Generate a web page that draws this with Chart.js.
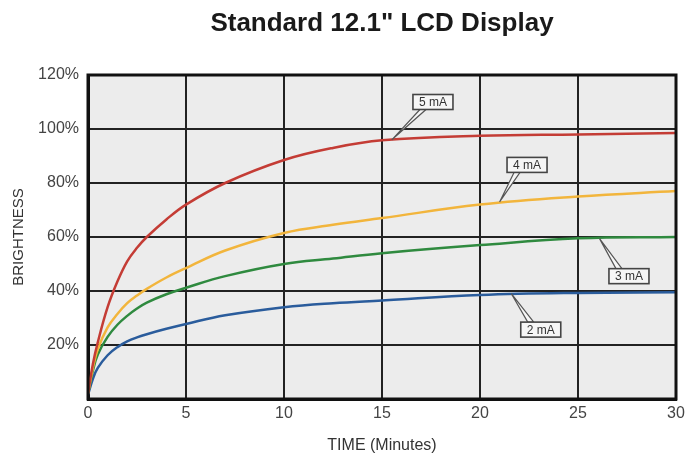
<!DOCTYPE html>
<html>
<head>
<meta charset="utf-8">
<script src="https://cdn.jsdelivr.net/npm/chart.js@4/dist/chart.umd.min.js"></script>
<style>
    html, body { margin: 0; padding: 0; background: #fff; }
    #wrap { width: 699px; height: 455px; }
</style>
</head>
<body>
<div id="wrap"><canvas id="lcdChart"></canvas></div>
<script>
/* ── Data ─────────────────────────────────────────── */
var titleText = 'Standard 12.1" LCD Display';
var timeMinutes = [0, 0.25, 0.5, 1, 1.5, 2, 2.5, 3, 4, 5, 7, 10, 12.5, 15, 20, 25, 30];

var ma5 = [2, 13, 21, 34, 43.5, 51, 56, 60, 66.5, 72, 80, 88.5, 93, 95.8, 97.5, 98, 98.5];
var ma4 = [2, 11.5, 18.5, 26.5, 31.5, 35.5, 38.3, 40.8, 45, 48.5, 55, 61.5, 64.5, 67, 72, 75, 77];
var ma3 = [2, 10.5, 16.5, 23, 27.5, 30.8, 33.5, 35.7, 38.8, 41.2, 45.5, 50, 52, 54, 57, 59.5, 60];
var ma2 = [1.5, 7.5, 11.5, 16.2, 19.2, 21.3, 22.8, 24, 26, 27.8, 31, 34, 35.5, 36.5, 38.5, 39.3, 39.5];

var xTicks = [0, 5, 10, 15, 20, 25, 30];
var yTicks = [0, 20, 40, 60, 80, 100, 120];

// callout labels: box centre and pointer tip, in data units
var calloutLabels = ['5 mA', '4 mA', '3 mA', '2 mA'];
var calloutBoxX = [17.6, 22.4, 27.6, 23.1];
var calloutBoxY = [110, 86.7, 45.5, 25.7];
var calloutTipX = [15.5, 21, 26.1, 21.6];
var calloutTipY = [96, 73, 59.4, 39];

function pts(ys) {
    return timeMinutes.map(function (t, i) { return { x: t, y: ys[i] }; });
}

/* ── Plugins ──────────────────────────────────────── */
var plotFrame = {
    id: 'plotFrame',
    beforeDraw: function (chart) {
        var a = chart.chartArea, c = chart.ctx;
        c.save();
        c.fillStyle = '#ececec';
        c.fillRect(a.left, a.top, a.right - a.left, a.bottom - a.top);
        c.restore();
    },
    afterDatasetsDraw: function (chart) {
        var a = chart.chartArea, c = chart.ctx;
        c.save();
        c.strokeStyle = '#111';
        c.lineWidth = 3;
        c.strokeRect(a.left, a.top, a.right - a.left, a.bottom - a.top);
        c.restore();
    },
    afterDraw: function (chart) {
        var a = chart.chartArea, c = chart.ctx;
        c.save();
        c.fillStyle = '#1a1a1a';
        c.font = 'bold 26px "Liberation Sans", Arial, sans-serif';
        c.textAlign = 'center';
        c.textBaseline = 'alphabetic';
        c.fillText(titleText, (a.left + a.right) / 2, 31);
        c.restore();
    }
};

var callouts = {
    id: 'callouts',
    afterDatasetsDraw: function (chart) {
        var xs = chart.scales.x, ys = chart.scales.y, c = chart.ctx;
        c.save();
        c.font = '12px "Liberation Sans", Arial, sans-serif';
        calloutLabels.forEach(function (lbl, i) {
            var cx = xs.getPixelForValue(calloutBoxX[i]);
            var cy = ys.getPixelForValue(calloutBoxY[i]);
            var tx = xs.getPixelForValue(calloutTipX[i]);
            var ty = ys.getPixelForValue(calloutTipY[i]);
            var w = c.measureText(lbl).width + 12, h = 15;
            var left = cx - w / 2, top = cy - h / 2;
            var ax = left + 10;
            var ay = ty > cy ? top + h : top;

            // pointer wedge
            c.beginPath();
            c.moveTo(ax - 3, ay);
            c.lineTo(tx, ty);
            c.lineTo(ax + 3, ay);
            c.closePath();
            c.fillStyle = '#f6f6f6';
            c.fill();
            c.strokeStyle = '#555';
            c.lineWidth = 1.2;
            c.stroke();

            // box
            c.fillStyle = '#f6f6f6';
            c.fillRect(left, top, w, h);
            c.lineWidth = 1.6;
            c.strokeStyle = '#444';
            c.strokeRect(left, top, w, h);

            c.fillStyle = '#333';
            c.textAlign = 'center';
            c.textBaseline = 'middle';
            c.fillText(lbl, cx, cy + 1);
        });
        c.restore();
    }
};

/* ── Chart ────────────────────────────────────────── */
function series(label, ys, color) {
    return {
        label: label,
        data: pts(ys),
        borderColor: color,
        borderWidth: 2.5,
        pointRadius: 0,
        fill: false,
        tension: 0.4
    };
}

var tickFont = { family: '"Liberation Sans", Arial, sans-serif', size: 16 };

new Chart(document.getElementById('lcdChart'), {
    type: 'line',
    data: {
        datasets: [
            series('5 mA', ma5, '#c43c35'),
            series('4 mA', ma4, '#f2b53c'),
            series('3 mA', ma3, '#2f8a3f'),
            series('2 mA', ma2, '#2a5c9c')
        ]
    },
    options: {
        responsive: true,
        maintainAspectRatio: false,
        animation: false,
        layout: { padding: { left: 8, right: 23, top: 75, bottom: 0 } },
        plugins: {
            legend: { display: false },
            tooltip: { enabled: false },
            title: { display: false }
        },
        scales: {
            x: {
                type: 'linear',
                min: 0,
                max: 30,
                afterBuildTicks: function (s) { s.ticks = xTicks.map(function (v) { return { value: v }; }); },
                afterFit: function (s) { s.height = 56; },
                grid: { color: '#222', lineWidth: 2, drawTicks: false },
                border: { color: '#111', width: 3 },
                ticks: { color: '#444', font: tickFont, padding: 5 },
                title: {
                    display: true,
                    text: 'TIME (Minutes)',
                    color: '#333',
                    font: tickFont,
                    padding: { top: 8, bottom: 0 }
                }
            },
            y: {
                min: 0,
                max: 120,
                afterBuildTicks: function (s) { s.ticks = yTicks.map(function (v) { return { value: v }; }); },
                afterFit: function (s) { s.width = 80; },
                grid: { color: '#222', lineWidth: 2, drawTicks: false },
                border: { color: '#111', width: 3 },
                ticks: {
                    color: '#444',
                    font: tickFont,
                    padding: 9,
                    callback: function (v) { return v === 0 ? '' : v + '%'; }
                },
                title: {
                    display: true,
                    text: 'BRIGHTNESS',
                    color: '#333',
                    font: { family: '"Liberation Sans", Arial, sans-serif', size: 15 },
                    padding: { top: 2, bottom: 0 }
                }
            }
        }
    },
    plugins: [plotFrame, callouts]
});
</script>
</body>
</html>
